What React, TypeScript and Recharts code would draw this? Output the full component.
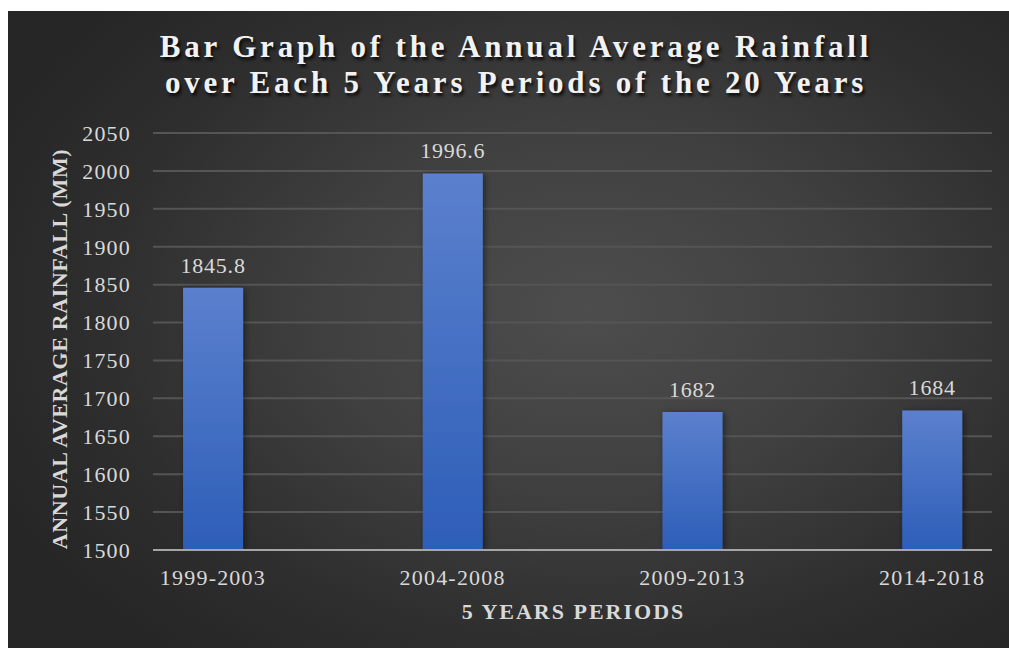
import React from 'react';
import {
  BarChart,
  Bar,
  XAxis,
  YAxis,
  CartesianGrid,
  LabelList,
} from 'recharts';

// Annual average rainfall (mm) per 5-year period
const periods = ['1999-2003', '2004-2008', '2009-2013', '2014-2018'];
const rainfall = [1845.8, 1996.6, 1682, 1684];
const yTicks = [1500, 1550, 1600, 1650, 1700, 1750, 1800, 1850, 1900, 1950, 2000, 2050];

const chartData = periods.map((period, i) => ({
  idx: i,
  period,
  value: rainfall[i],
}));

const SERIF = '"Liberation Serif", "Times New Roman", serif';
const TEXT = '#d9d9d9';

const PANEL_W = 1001;
const PANEL_H = 637;

export default function App() {
  return (
    <div
      style={{
        position: 'absolute',
        left: 8,
        top: 11,
        width: PANEL_W,
        height: PANEL_H,
        background:
          'radial-gradient(ellipse 65% 70% at 58% 47%, #4d4d4d 0%, #404040 40%, #2e2e2e 75%, #262626 100%)',
        fontFamily: SERIF,
        overflow: 'hidden',
      }}
    >
      <div
        style={{
          position: 'absolute',
          left: 0,
          top: 18,
          width: PANEL_W,
          boxSizing: 'border-box',
          paddingLeft: 15,
          textAlign: 'center',
          fontSize: 31,
          lineHeight: '36px',
          fontWeight: 'bold',
          letterSpacing: 3.8,
          color: '#f2f2f2',
          textShadow: '2px 3px 3px rgba(0,0,0,0.75)',
          whiteSpace: 'nowrap',
        }}
      >
        <div>Bar Graph of the Annual Average Rainfall</div>
        <div>over Each 5 Years Periods of the 20 Years</div>
      </div>

      <BarChart
        width={PANEL_W}
        height={PANEL_H}
        data={chartData}
        margin={{ top: 122, right: 17, bottom: 38, left: 65 }}
      >
        <defs>
          <linearGradient id="barFill" x1="0" y1="0" x2="0" y2="1">
            <stop offset="0%" stopColor="#5b80cd" />
            <stop offset="100%" stopColor="#2d5eb8" />
          </linearGradient>
          <filter id="barShadow" x="-30%" y="-10%" width="160%" height="120%">
            <feDropShadow dx="2" dy="1" stdDeviation="3" floodColor="#000" floodOpacity="0.45" />
          </filter>
        </defs>
        <CartesianGrid vertical={false} stroke="#555555" strokeWidth={2} />
        <XAxis
          type="number"
          dataKey="idx"
          domain={[-0.25, 3.25]}
          ticks={[0, 1, 2, 3]}
          allowDataOverflow
          tickFormatter={(i: number) => periods[i]}
          height={60}
          tickLine={false}
          tickSize={0}
          tickMargin={19}
          stroke="#a6a6a6"
          strokeWidth={2}
          tick={{ fill: TEXT, fontSize: 22, fontFamily: SERIF, letterSpacing: 1.2 }}
        />
        <YAxis
          domain={[1500, 2050]}
          ticks={yTicks}
          allowDataOverflow
          width={80}
          axisLine={false}
          tickLine={false}
          tickSize={0}
          tickMargin={22}
          tick={{ fill: TEXT, fontSize: 22, fontFamily: SERIF, letterSpacing: 1.2 }}
        />
        <Bar
          dataKey="value"
          barSize={60}
          fill="url(#barFill)"
          filter="url(#barShadow)"
          isAnimationActive={false}
        >
          <LabelList
            dataKey="value"
            position="top"
            offset={15}
            fill={TEXT}
            fontSize={22}
            fontFamily={SERIF}
            letterSpacing={0.8}
          />
        </Bar>
      </BarChart>

      <div
        style={{
          position: 'absolute',
          left: 52,
          top: 338,
          width: 0,
          height: 0,
        }}
      >
        <div
          style={{
            position: 'absolute',
            left: 0,
            top: 0,
            transform: 'translate(-50%, -50%) rotate(-90deg)',
            fontSize: 22,
            fontWeight: 'bold',
            letterSpacing: 0.6,
            color: TEXT,
            whiteSpace: 'nowrap',
            lineHeight: '24px',
          }}
        >
          ANNUAL AVERAGE RAINFALL (MM)
        </div>
      </div>

      <div
        style={{
          position: 'absolute',
          left: 0,
          top: 588,
          width: PANEL_W,
          boxSizing: 'border-box',
          paddingLeft: 130,
          textAlign: 'center',
          fontSize: 22,
          fontWeight: 'bold',
          letterSpacing: 2,
          color: TEXT,
          whiteSpace: 'nowrap',
          lineHeight: '26px',
        }}
      >
        5 YEARS PERIODS
      </div>
    </div>
  );
}
